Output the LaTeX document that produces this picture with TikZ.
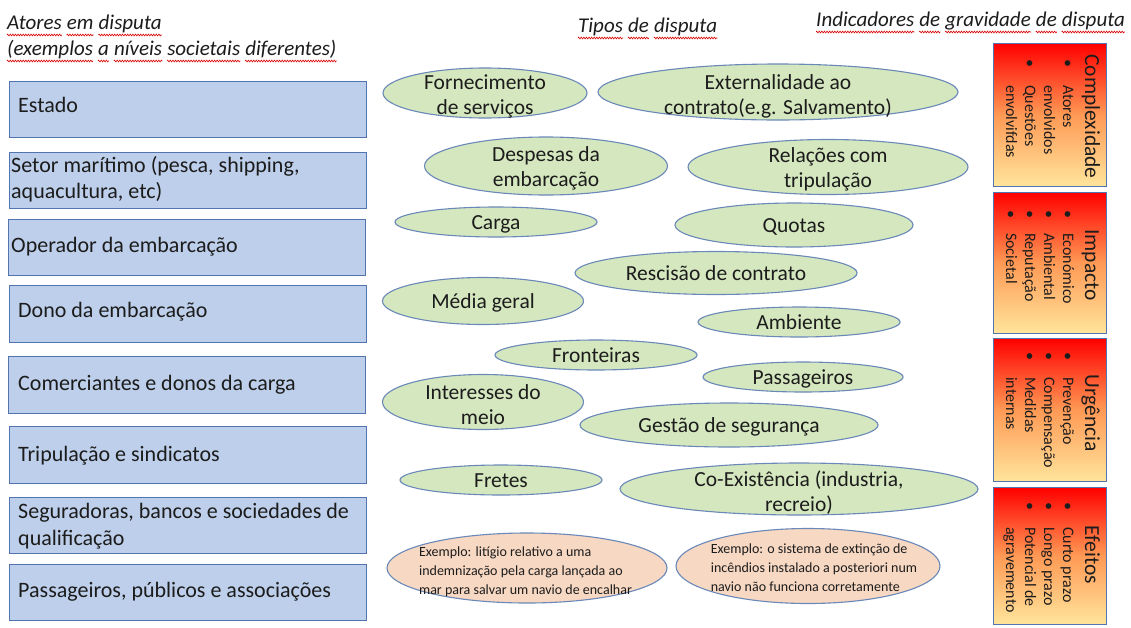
\documentclass[tikz,border=0pt]{standalone}
\usepackage{fontspec}
\setmainfont{Carlito}
\usetikzlibrary{shapes.geometric,decorations.pathmorphing}
\definecolor{actorfill}{HTML}{BDCFEA}
\definecolor{actordraw}{HTML}{5275B0}
\definecolor{ellfill}{HTML}{D5E7BF}
\definecolor{elldraw}{HTML}{6A88B8}
\definecolor{exfill}{HTML}{F7D8C3}
\definecolor{txt}{HTML}{1C1C1C}
\definecolor{gradbot}{HTML}{FFE59C}
\definecolor{gradmid}{HTML}{FF9A55}
\begin{document}
\begin{tikzpicture}[x=1pt,y=-1pt,
  actor/.style={rectangle, draw=actordraw, fill=actorfill, line width=1.2pt, anchor=north west,
    minimum width=357pt, inner sep=0pt},
  atext/.style={anchor=west, align=left, font=\fontsize{22}{26.5}\selectfont, text=txt, inner sep=0pt},
  dispute/.style={ellipse, draw=elldraw, fill=ellfill, line width=1.1pt, inner sep=0pt},
  example/.style={dispute, fill=exfill},
  etext/.style={align=center, font=\fontsize{21.5}{25}\selectfont, text=txt, inner sep=0pt},
  etextone/.style={etext, text height=14pt, text depth=0pt},
  xtext/.style={align=left, font=\fontsize{14}{19}\selectfont, text=txt, inner sep=0pt},
  ind/.style={rectangle, draw=actordraw, line width=1.2pt, top color=red, bottom color=gradbot, middle color=gradmid,
    minimum width=113pt, anchor=north west, inner sep=0pt},
  ttl/.style={rotate=-90, anchor=base, font=\fontsize{21.5}{24}\selectfont, text=txt, inner sep=0pt},
  itm/.style={rotate=-90, anchor=base west, font=\fontsize{16}{19}\selectfont, text=txt, inner sep=0pt},
  hdr/.style={anchor=base west, font=\fontsize{21}{25}\selectfont\itshape, text=txt, inner sep=0pt},
  squig/.style={draw=red!85!black, line width=0.6pt, decorate, decoration={zigzag, segment length=2.6pt, amplitude=0.9pt}}
]
\useasboundingbox (0,0) rectangle (1131,627);
\fill[white] (0,0) rectangle (1131,627);

% headers
\node[hdr] (h1a) at (7,29) {Atores};
\node[hdr] (h1b) at ([xshift=4.75pt]h1a.base east) {em};
\node[hdr] (h1c) at ([xshift=4.75pt]h1b.base east) {disputa};
\node[hdr] (h2a) at (7,55) {(exemplos};
\node[hdr] (h2b) at ([xshift=4.75pt]h2a.base east) {a};
\node[hdr] (h2c) at ([xshift=4.75pt]h2b.base east) {níveis};
\node[hdr] (h2d) at ([xshift=4.75pt]h2c.base east) {societais};
\node[hdr] (h2e) at ([xshift=4.75pt]h2d.base east) {diferentes)};
\node[hdr] (h3a) at (578,32) {Tipos};
\node[hdr] (h3b) at ([xshift=4.75pt]h3a.base east) {de};
\node[hdr] (h3c) at ([xshift=4.75pt]h3b.base east) {disputa};
\node[hdr] (h4a) at (816,26) {Indicadores};
\node[hdr] (h4b) at ([xshift=4.75pt]h4a.base east) {de};
\node[hdr] (h4c) at ([xshift=4.75pt]h4b.base east) {gravidade};
\node[hdr] (h4d) at ([xshift=4.75pt]h4c.base east) {de};
\node[hdr] (h4e) at ([xshift=4.75pt]h4d.base east) {disputa};
\foreach \w in {h1a,h1b,h1c,h2a,h2b,h2c,h2d,h2e,h3a,h3b,h3c,h4a,h4b,h4c,h4d,h4e}
  \draw[squig] ([yshift=-6pt]\w.base west) -- ([yshift=-6pt]\w.base east);

% actors
\node[actor, minimum height=56pt] (a1) at (9,81) {};
\node[atext] (a1t) at (18,105) {Estado};
\node[actor, minimum height=56pt] (a2) at (9,152) {};
\node[atext] (a2t) at (11,179) {Setor marítimo (pesca, shipping,\\aquacultura, etc)};
\node[actor, minimum height=56pt] (a3) at (8,219) {};
\node[atext] (a3t) at (11,247) {Operador da embarcação};
\node[actor, minimum height=57pt] (a4) at (9,285) {};
\node[atext] (a4t) at (18,312) {Dono da embarcação};
\node[actor, minimum height=57pt] (a5) at (8,356) {};
\node[atext] (a5t) at (18,385) {Comerciantes e donos da carga};
\node[actor, minimum height=57pt] (a6) at (9,426) {};
\node[atext] (a6t) at (18,456) {Tripulação e sindicatos};
\node[actor, minimum height=56pt] (a7) at (9,497) {};
\node[atext] (a7t) at (18,526) {Seguradoras, bancos e sociedades de\\qualificação};
\node[actor, minimum height=56pt] (a8) at (9,564) {};
\node[atext] (a8t) at (18,592) {Passageiros, públicos e associações};

% dispute types
\node[dispute, minimum width=204pt, minimum height=50pt] (e1) at (485,93) {};
\node[etext] (e1t) at (485,96.5) {Fornecimento\\de serviços};
\node[dispute, minimum width=360pt, minimum height=56pt] (e2) at (778,92) {};
\node[etext] (e2t) at (778,96) {Externalidade ao\\contrato(e.g. Salvamento)};
\node[dispute, minimum width=243pt, minimum height=58pt] (e3) at (546,166) {};
\node[etext] (e3t) at (546,168.5) {Despesas da\\embarcação};
\node[dispute, minimum width=280pt, minimum height=55pt] (e4) at (828,167) {};
\node[etext] (e4t) at (828,169) {Relações com\\tripulação};
\node[dispute, minimum width=202pt, minimum height=30pt] (e5) at (496,222) {};
\node[etextone] (e5t) at (e5) {Carga};
\node[dispute, minimum width=238pt, minimum height=44pt] (e6) at (794,225) {};
\node[etextone] (e6t) at (e6) {Quotas};
\node[dispute, minimum width=282pt, minimum height=43pt] (e7) at (716,273) {};
\node[etextone] (e7t) at (e7) {Rescisão de contrato};
\node[dispute, minimum width=201pt, minimum height=47pt] (e8) at (483,301) {};
\node[etextone] (e8t) at (e8) {Média geral};
\node[dispute, minimum width=202pt, minimum height=30pt] (e9) at (799,322) {};
\node[etextone] (e9t) at (e9) {Ambiente};
\node[dispute, minimum width=202pt, minimum height=30pt] (e10) at (596,355) {};
\node[etextone] (e10t) at (e10) {Fronteiras};
\node[dispute, minimum width=200pt, minimum height=30pt] (e11) at (803,377) {};
\node[etextone] (e11t) at (e11) {Passageiros};
\node[dispute, minimum width=201pt, minimum height=55pt] (e12) at (483,402) {};
\node[etext] (e12t) at (483,404.5) {Interesses do\\meio};
\node[dispute, minimum width=298pt, minimum height=44pt] (e13) at (729,425) {};
\node[etextone] (e13t) at (e13) {Gestão de segurança};
\node[dispute, minimum width=202pt, minimum height=30pt] (e14) at (501,480) {};
\node[etextone] (e14t) at (e14) {Fretes};
\node[dispute, minimum width=358pt, minimum height=52pt] (e15) at (799,489) {};
\node[etext] (e15t) at (799,492.5) {Co-Existência (industria,\\recreio)};

% examples
\node[example, minimum width=280pt, minimum height=70pt] (x1) at (527,568) {};
\node[xtext] (x1t) at (525.5,572) {Exemplo: litígio relativo a uma\\indemnização pela carga lançada ao\\mar para salvar um navio de encalhar};
\node[example, minimum width=264pt, minimum height=75pt] (x2) at (808,566) {};
\node[xtext] (x2t) at (814,568) {Exemplo: o sistema de extinção de\\incêndios instalado a posteriori num\\navio não funciona corretamente};

% indicators
\node[ind, minimum height=143pt] (r1) at (993,43) {};
\node[ind, minimum height=141pt] (r2) at (993,192) {};
\node[ind, minimum height=143pt] (r3) at (993,338) {};
\node[ind, minimum height=137pt] (r4) at (993,487) {};

\node[ttl] (r1t) at (1085,116.5) {Complexidade};
\node[itm] (r1b1) at (1063,59) {\textbullet};
\node[itm] (r1i1) at (1063,85) {Atores};
\node[itm] (r1i2) at (1044,85) {envolvidos};
\node[itm] (r1b2) at (1025,59) {\textbullet};
\node[itm] (r1i3) at (1025,85) {Questões};
\node[itm] (r1i4) at (1006,85) {envolvifdas};

\node[ttl] (r2t) at (1085,265) {Impacto};
\node[itm] (r2b1) at (1063,210) {\textbullet};
\node[itm] (r2b2) at (1044,210) {\textbullet};
\node[itm] (r2b3) at (1025,210) {\textbullet};
\node[itm] (r2b4) at (1006,210) {\textbullet};
\node[itm] (r2i1) at (1063,233) {Económico};
\node[itm] (r2i2) at (1044,233) {Ambiental};
\node[itm] (r2i3) at (1025,233) {Reputação};
\node[itm] (r2i4) at (1006,233) {Societal};

\node[ttl] (r3t) at (1085,413) {Urgência};
\node[itm] (r3b1) at (1063,352) {\textbullet};
\node[itm] (r3b2) at (1044,352) {\textbullet};
\node[itm] (r3b3) at (1025,352) {\textbullet};
\node[itm] (r3i1) at (1063,377) {Prevenção};
\node[itm] (r3i2) at (1044,377) {Compensação};
\node[itm] (r3i3) at (1025,377) {Medidas};
\node[itm] (r3i4) at (1006,377) {internas};

\node[ttl] (r4t) at (1085,555) {Efeitos};
\node[itm] (r4b1) at (1063,502) {\textbullet};
\node[itm] (r4b2) at (1044,502) {\textbullet};
\node[itm] (r4b3) at (1025,502) {\textbullet};
\node[itm] (r4i1) at (1063,527) {Curto prazo};
\node[itm] (r4i2) at (1044,527) {Longo prazo};
\node[itm] (r4i3) at (1025,527) {Potencial de};
\node[itm] (r4i4) at (1006,527) {agravemento};
\end{tikzpicture}
\end{document}
